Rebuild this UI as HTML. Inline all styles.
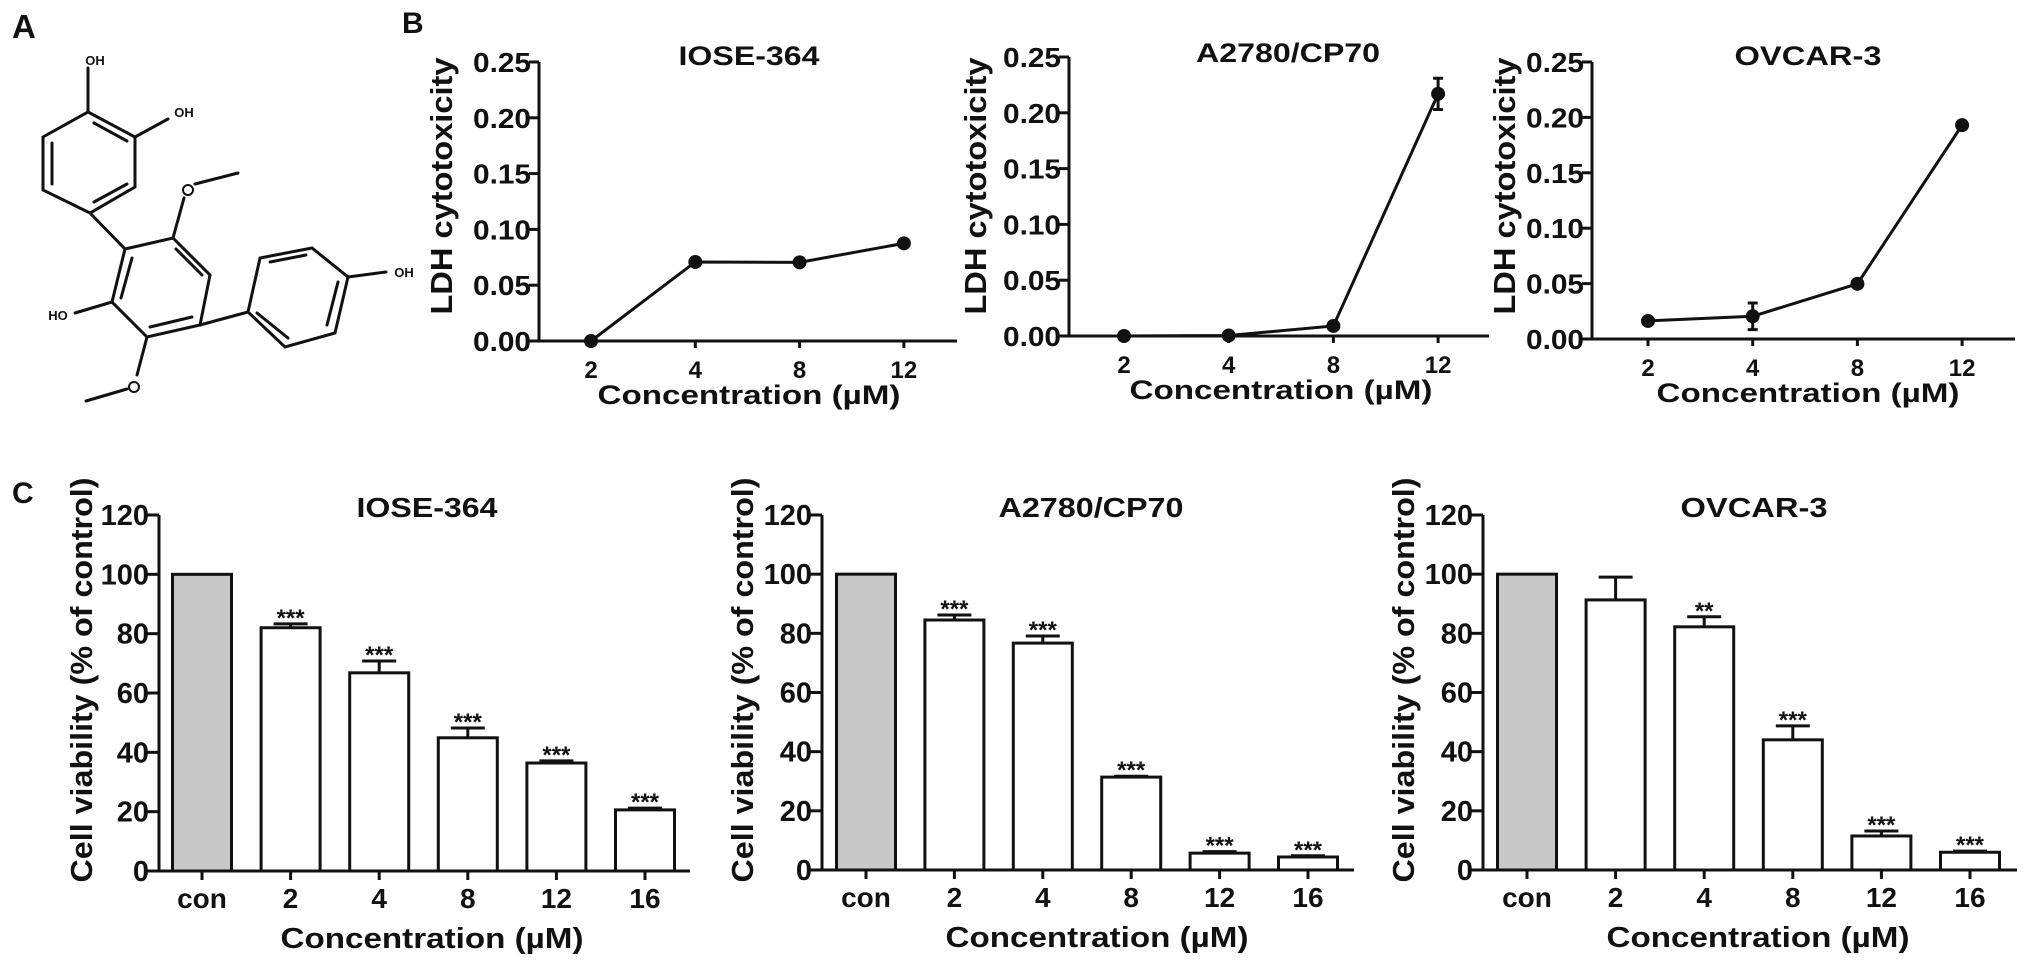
<!DOCTYPE html>
<html><head><meta charset="utf-8"><style>
html,body{margin:0;padding:0;background:#fff;}
svg{display:block;}
text{font-family:"Liberation Sans",Arial,sans-serif;font-weight:bold;fill:#111;}
</style></head><body>
<svg id="fig" width="2031" height="971" viewBox="0 0 2031 971" xmlns="http://www.w3.org/2000/svg">
<g>
<text x="12" y="38" font-size="33">A</text>
<text x="402" y="33" font-size="30">B</text>
<text x="12" y="503" font-size="30">C</text>
</g>
<g stroke="#111" stroke-width="3" fill="none" stroke-linecap="round">
<polygon points="88,112 135,137 135,187 90,213 43,190 43,137"/>
<line x1="52" y1="143" x2="52" y2="184"/>
<line x1="94" y1="123" x2="127" y2="141"/>
<line x1="94" y1="202" x2="127" y2="184"/>
<line x1="88" y1="112" x2="88" y2="68"/>
<line x1="135" y1="137" x2="168" y2="119"/>
<line x1="90" y1="213" x2="125" y2="249"/>
<polygon points="125,249 173,238 210,275 200,325 147,337 112,302"/>
<line x1="132" y1="258" x2="121" y2="298"/>
<line x1="176" y1="249" x2="202" y2="275"/>
<line x1="150" y1="327" x2="192" y2="317"/>
<line x1="173" y1="238" x2="184" y2="198"/>
<line x1="195" y1="184" x2="238" y2="173"/>
<line x1="112" y1="302" x2="75" y2="313"/>
<line x1="147" y1="337" x2="137" y2="375"/>
<line x1="127" y1="389" x2="86" y2="401"/>
<line x1="200" y1="325" x2="248" y2="312"/>
<polygon points="248,312 260,258 312,248 348,277 335,333 285,347"/>
<line x1="270" y1="262" x2="306" y2="255"/>
<line x1="338" y1="282" x2="327" y2="325"/>
<line x1="257" y1="313" x2="288" y2="338"/>
<line x1="348" y1="277" x2="386" y2="272"/>
<circle cx="188" cy="190" r="5" stroke-width="2"/>
<circle cx="134" cy="387" r="5" stroke-width="2"/>
</g>
<g>
<text x="95" y="65" font-size="13" text-anchor="middle" font-weight="normal">OH</text>
<text x="184" y="117" font-size="13" text-anchor="middle" font-weight="normal">OH</text>
<text x="58" y="320" font-size="13" text-anchor="middle" font-weight="normal">HO</text>
<text x="404" y="277" font-size="13" text-anchor="middle" font-weight="normal">OH</text>
</g>
</svg>
<script>
// ---- Panel B data (LDH cytotoxicity) ----
const ldhConc = ['2','4','8','12'];
const ldhTicks = ['0.00','0.05','0.10','0.15','0.20','0.25'];
const ldhTickVals = [0,0.05,0.10,0.15,0.20,0.25];
const ldhIose = [0, 0.0708, 0.0705, 0.0875];
const ldhIoseErr = [0.001, 0.003, 0.001, 0.001];
const ldhA2780 = [0, 0.0005, 0.009, 0.217];
const ldhA2780Err = [0, 0, 0.001, 0.014];
const ldhOvcar = [0.0163, 0.0205, 0.0498, 0.193];
const ldhOvcarErr = [0.001, 0.012, 0.001, 0.001];
// ---- Panel C data (cell viability) ----
const viabCats = ['con','2','4','8','12','16'];
const viabTicks = ['0','20','40','60','80','100','120'];
const viabTickVals = [0,20,40,60,80,100,120];
const viabIose = [100, 82, 66.8, 44.9, 36.4, 20.6];
const viabIoseErr = [0, 1.3, 4, 3.3, 0.7, 0.6];
const viabIoseSig = ['', '***', '***', '***', '***', '***'];
const viabA2780 = [100, 84.5, 76.7, 31.4, 5.7, 4.4];
const viabA2780Err = [0, 1.7, 2.4, 0.3, 0.5, 0.4];
const viabA2780Sig = ['', '***', '***', '***', '***', '***'];
const viabOvcar = [100, 91.3, 82.2, 44, 11.5, 6];
const viabOvcarErr = [0, 7.7, 3.4, 4.7, 1.7, 0.4];
const viabOvcarSig = ['', '', '**', '***', '***', '***'];

const NS = 'http://www.w3.org/2000/svg';
const svg = document.getElementById('fig');
function mk(tag, attrs, parent) {
  const e = document.createElementNS(NS, tag);
  for (const k in attrs) e.setAttribute(k, attrs[k]);
  (parent || svg).appendChild(e);
  return e;
}
function txt(parent, s, x, y, size, anchor, len) {
  const t = mk('text', {x: x, y: y, 'font-size': size, 'text-anchor': anchor || 'middle'}, parent);
  if (len) { t.setAttribute('textLength', len); t.setAttribute('lengthAdjust', 'spacingAndGlyphs'); }
  t.textContent = s;
  return t;
}

function lineChart(name, title, vals, errs, g) {
  const grp = mk('g', {});
  
  
  const ymax = ldhTickVals[ldhTickVals.length - 1];
  const yS = v => g.y0 - (v / ymax) * (g.y0 - g.yTop);
  const xS = i => g.x0 + i * g.step;
  const ax = mk('path', {d: `M${g.ax},${g.yTop} L${g.ax},${g.y0} L${g.end},${g.y0}`, stroke: '#111', 'stroke-width': 3, fill: 'none'}, grp);
  
  
  ldhTickVals.forEach((v, i) => {
    mk('line', {x1: g.ax - 10, x2: g.ax, y1: yS(v), y2: yS(v), stroke: '#111', 'stroke-width': 3}, grp);
    const t = txt(grp, ldhTicks[i], g.ax - 8, yS(v) + 10, 28, 'end', 58);
    
    
  });
  ldhConc.forEach((c, i) => {
    mk('line', {x1: xS(i), x2: xS(i), y1: g.y0, y2: g.y0 + 7, stroke: '#111', 'stroke-width': 3}, grp);
    const t = txt(grp, c, xS(i), g.y0 + 37, 24, 'middle');
    
    
  });
  const pts = vals.map((v, i) => `${xS(i)},${yS(v)}`).join(' ');
  const pl = mk('polyline', {points: pts, stroke: '#111', 'stroke-width': 3, fill: 'none'}, grp);
  
  
  vals.forEach((v, i) => {
    const e = errs[i];
    if (e > 0.002) {
      const eb = mk('path', {d: `M${xS(i)},${yS(v + e)} L${xS(i)},${yS(v - e)} M${xS(i) - 5},${yS(v + e)} L${xS(i) + 5},${yS(v + e)} M${xS(i) - 5},${yS(v - e)} L${xS(i) + 5},${yS(v - e)}`, stroke: '#111', 'stroke-width': 3, fill: 'none'}, grp);
      
      
    }
    const c = mk('circle', {cx: xS(i), cy: yS(v), r: 7, fill: '#111'}, grp);
    
    
  });
  const tt = txt(grp, title, g.tc, g.tb, 27, 'middle', g.tl);
  
  
  const xt = txt(grp, 'Concentration (µM)', g.xc, g.y0 + 63, 27, 'middle', 303);
  
  
  const yt = txt(grp, 'LDH cytotoxicity', 0, 0, 31, 'middle', 257);
  yt.setAttribute('transform', `translate(${g.yb},186) rotate(-90)`);
  
  
}

function barChart(name, title, vals, errs, sig, g) {
  const grp = mk('g', {});
  
  
  const ymax = viabTickVals[viabTickVals.length - 1];
  const yS = v => g.y0 - (v / ymax) * (g.y0 - g.yTop);
  const xS = i => g.x0 + i * g.step;
  const bw = 59;
  vals.forEach((v, i) => {
    const r = mk('rect', {x: xS(i) - bw / 2, y: yS(v), width: bw, height: g.y0 - yS(v), fill: i === 0 ? '#c8c8c8' : '#fff', stroke: '#111', 'stroke-width': 3}, grp);
    
    
    const e = errs[i];
    if (e > 0) {
      const eb = mk('path', {d: `M${xS(i)},${yS(v)} L${xS(i)},${yS(v + e)} M${xS(i) - 17},${yS(v + e)} L${xS(i) + 17},${yS(v + e)}`, stroke: '#111', 'stroke-width': 3, fill: 'none'}, grp);
      
      
    }
    if (sig[i]) {
      const s = txt(grp, sig[i], xS(i), yS(v + e) + 2, 24, 'middle');
      s.setAttribute('font-weight', 'normal');
      
      
    }
  });
  const ax = mk('path', {d: `M${g.ax},${g.yTop} L${g.ax},${g.y0} L${g.end},${g.y0}`, stroke: '#111', 'stroke-width': 3, fill: 'none'}, grp);
  
  
  viabTickVals.forEach((v, i) => {
    mk('line', {x1: g.ax - 12, x2: g.ax, y1: yS(v), y2: yS(v), stroke: '#111', 'stroke-width': 3}, grp);
    const t = txt(grp, viabTicks[i], g.ax - 10, yS(v) + 10, 29, 'end');
    
    
  });
  viabCats.forEach((c, i) => {
    mk('line', {x1: xS(i), x2: xS(i), y1: g.y0, y2: g.y0 + 9, stroke: '#111', 'stroke-width': 3}, grp);
    const t = txt(grp, c, xS(i), g.y0 + 37, 28, 'middle');
    
    
  });
  const tt = txt(grp, title, g.tc, 517, 28, 'middle', g.tl);
  
  
  const xt = txt(grp, 'Concentration (µM)', g.xc, g.y0 + 77, 29, 'middle', 303);
  
  
  const yt = txt(grp, 'Cell viability (% of control)', 0, 0, 31, 'middle', 405);
  yt.setAttribute('transform', `translate(${g.yb},680) rotate(-90)`);
  
  
}

lineChart('ldh-chart-iose364', 'IOSE-364', ldhIose, ldhIoseErr,
  {ax: 539, y0: 341, yTop: 62, x0: 591, step: 104.3, end: 957, tc: 749, tb: 65, tl: 141, xc: 749, yb: 452});
lineChart('ldh-chart-a2780cp70', 'A2780/CP70', ldhA2780, ldhA2780Err,
  {ax: 1069, y0: 336, yTop: 57, x0: 1124, step: 104.7, end: 1489, tc: 1288, tb: 62, tl: 184, xc: 1281, yb: 986});
lineChart('ldh-chart-ovcar3', 'OVCAR-3', ldhOvcar, ldhOvcarErr,
  {ax: 1592, y0: 339, yTop: 62, x0: 1648, step: 104.7, end: 2015, tc: 1808, tb: 65, tl: 147, xc: 1808, yb: 1515});

barChart('viability-chart-iose364', 'IOSE-364', viabIose, viabIoseErr, viabIoseSig,
  {ax: 159, y0: 871, yTop: 515, x0: 202, step: 88.6, end: 690, tc: 427, tl: 141, xc: 432, yb: 92});
barChart('viability-chart-a2780cp70', 'A2780/CP70', viabA2780, viabA2780Err, viabA2780Sig,
  {ax: 822, y0: 870, yTop: 515, x0: 866, step: 88.4, end: 1354, tc: 1091, tl: 185, xc: 1097, yb: 753});
barChart('viability-chart-ovcar3', 'OVCAR-3', viabOvcar, viabOvcarErr, viabOvcarSig,
  {ax: 1483, y0: 870, yTop: 515, x0: 1527, step: 88.6, end: 2017, tc: 1754, tl: 147, xc: 1758, yb: 1414});
</script>
</body></html>
